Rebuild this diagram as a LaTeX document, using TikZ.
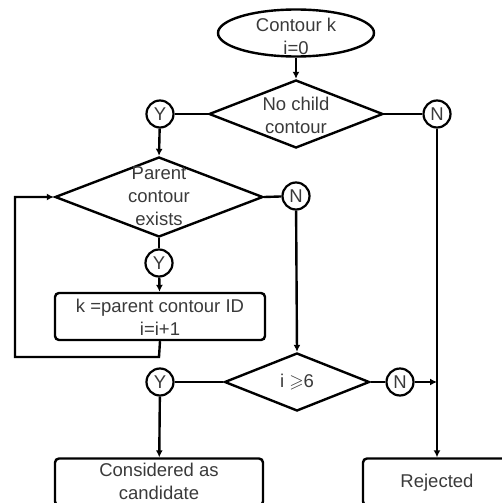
\documentclass[tikz,border=0pt]{standalone}
\usepackage{amssymb}
\usepackage{fontspec}
\setmainfont{Liberation Sans}
\usetikzlibrary{shapes.geometric,arrows.meta}
\definecolor{ink}{HTML}{3A3A3A}
\begin{document}
\begin{tikzpicture}[x=1pt,y=-1pt,
  flow/.style={line width=2.4pt,draw=black},
  arr/.style={flow,-{Latex[length=7pt,width=7pt]}},
  txt/.style={font=\fontsize{18.5}{23}\selectfont,text=ink,align=center,inner sep=0},
  dia/.style={diamond,draw,line width=2.4pt,inner sep=0},
  yn/.style={circle,draw,line width=2.2pt,minimum size=27pt,inner sep=0,
    font=\fontsize{18.5}{20}\selectfont,text=ink},
  proc/.style={rectangle,rounded corners=4pt,draw,line width=2.4pt,inner sep=0},
]
\useasboundingbox (0,0) rectangle (502,503);
\clip (0,0) rectangle (502,503);

% start
\node[ellipse,draw,line width=2.4pt,minimum width=156pt,minimum height=47pt,inner sep=0] (e) at (296,33) {};
\node[txt] (et) at (296,36) {Contour k\\i=0};

% first decision
\node[dia,minimum width=174pt,minimum height=68pt] (d1) at (296,114) {};
\node[txt] (d1t) at (296,115) {No child\\contour};
\node[yn] (y1) at (160,114) {Y};
\node[yn] (n1) at (437,114) {N};

% parent loop
\node[dia,minimum width=208pt,minimum height=80pt] (d2) at (159,197) {};
\node[txt] (d2t) at (159,196) {Parent\\contour\\exists};
\node[yn] (n2) at (296,196) {N};
\node[yn] (y2) at (159,263) {Y};
\node[proc,minimum width=210pt,minimum height=47pt] (p) at (160,316.5) {};
\node[txt] (pt) at (160,317) {k =parent contour ID\\i=i+1};
\coordinate (l1) at (159,357);
\coordinate (l2) at (15,357);
\coordinate (l3) at (15,197);

% depth check
\node[dia,minimum width=145pt,minimum height=58pt] (d3) at (297,382) {};
\node[txt] (d3t) at (297,382) {i $\geqslant$6};
\node[yn] (y3) at (160,382) {Y};
\node[yn] (n3) at (400,382) {N};
\coordinate (j) at (437,382);

% outcomes
\node[proc,minimum width=208pt,minimum height=47pt] (c) at (159,482) {};
\node[txt] (ct) at (159,481.5) {Considered as\\candidate};
\node[proc,minimum width=148pt,minimum height=47pt] (r) at (437,482) {};
\node[txt] (rt) at (437,483) {Rejected};

% connectors
\draw[arr] (e) -- (d1);
\draw[flow] (d1.west) -- (y1);
\draw[flow] (d1.east) -- (n1);
\draw[arr] (y1) -- (d2.north);
\draw[flow] (d2.east) -- (n2);
\draw[flow] (d2.south) -- (y2);
\draw[arr] (y2) -- (p);
\draw[arr] (p.south) -- (l1) -- (l2) -- (l3) -- (d2.west);
\draw[arr] (n2) -- (d3.north);
\draw[flow] (d3.west) -- (y3);
\draw[flow] (d3.east) -- (n3);
\draw[arr] (n3) -- (j);
\draw[arr] (n1) -- (r);
\draw[arr] (y3) -- (c);
\end{tikzpicture}
\end{document}
